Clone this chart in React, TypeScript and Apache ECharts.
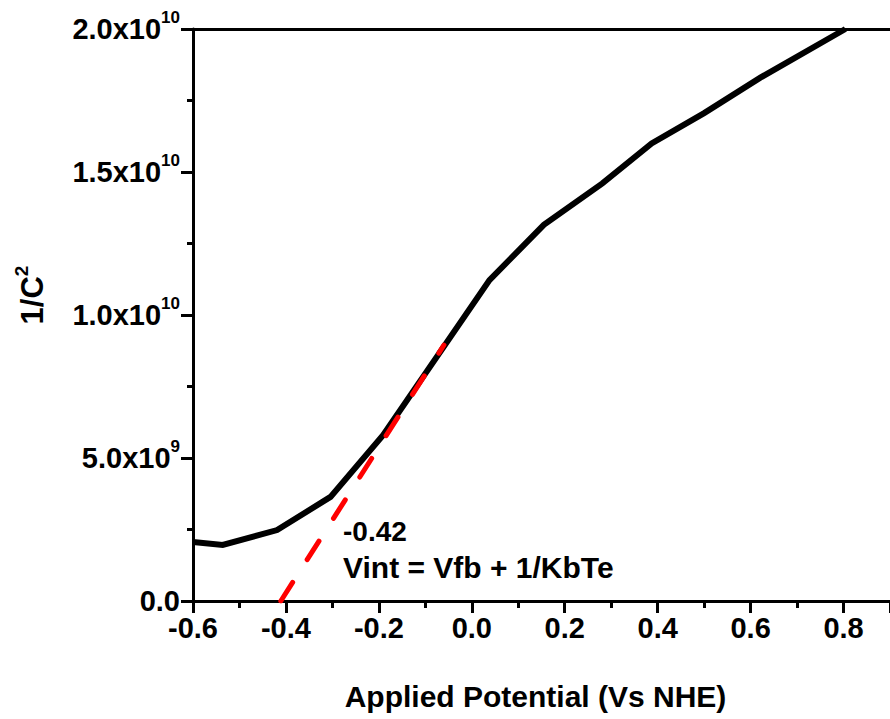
import React, { useEffect, useRef } from "react";
import * as echarts from "echarts";

const potential = [-0.6, -0.536, -0.419, -0.304, -0.191, 0.038, 0.155, 0.281, 0.387, 0.5, 0.621, 0.804];
const invC2 = [2.06e9, 1.96e9, 2.48e9, 3.64e9, 5.8e9, 1.122e10, 1.315e10, 1.46e10, 1.6e10, 1.706e10, 1.83e10, 2.0e10];

const fitX = [-0.411, -0.06];
const fitY = [0, 8.95e9];

const xTickLabels = ["-0.6", "-0.4", "-0.2", "0.0", "0.2", "0.4", "0.6", "0.8"];
const yTickMantissa = ["0.0", "5.0", "1.0", "1.5", "2.0"];
const yTickExponent = ["", "9", "10", "10", "10"];

const FONT = '"Liberation Sans", Arial, Helvetica, sans-serif';

export default function App() {
  const ref = useRef<HTMLDivElement>(null);
  useEffect(() => {
    if (!ref.current) return;
    const chart = echarts.init(ref.current, null, { renderer: "svg" });
    const axisLineStyle = { color: "#000", width: 3 };
    chart.setOption({
      animation: false,
      backgroundColor: "#fff",
      textStyle: { fontFamily: FONT },
      grid: { left: 193, top: 29, right: -8, bottom: 118, containLabel: false },
      xAxis: [
        {
          type: "value",
          min: -0.6,
          max: 0.9,
          interval: 0.2,
          name: "Applied Potential (Vs NHE)",
          nameLocation: "middle",
          nameGap: 80,
          nameTextStyle: { fontSize: 30, fontWeight: "bold", color: "#000", fontFamily: FONT, padding: [0, 12, 0, 0] },
          axisLine: { show: true, onZero: false, lineStyle: axisLineStyle },
          axisTick: { show: true, inside: false, length: 12, lineStyle: { color: "#000", width: 3 } },
          minorTick: { show: true, splitNumber: 2, length: 7, lineStyle: { color: "#000", width: 3 } },
          splitLine: { show: false },
          minorSplitLine: { show: false },
          axisLabel: {
            fontSize: 29,
            fontWeight: "bold",
            color: "#000",
            fontFamily: FONT,
            margin: 12,
            showMaxLabel: false,
            formatter: (_v: number, i: number) => xTickLabels[i] ?? "",
          },
        },
        {
          type: "value",
          position: "top",
          min: -0.6,
          max: 0.9,
          interval: 0.2,
          axisLine: { show: true, onZero: false, lineStyle: axisLineStyle },
          axisTick: { show: false },
          axisLabel: { show: false },
          splitLine: { show: false },
        },
      ],
      yAxis: {
        type: "value",
        min: 0,
        max: 2e10,
        interval: 5e9,
        axisLine: { show: true, onZero: false, lineStyle: axisLineStyle },
        axisTick: { show: true, inside: false, length: 12, lineStyle: { color: "#000", width: 3 } },
        minorTick: { show: true, splitNumber: 2, length: 6, lineStyle: { color: "#000", width: 3 } },
        splitLine: { show: false },
        minorSplitLine: { show: false },
        axisLabel: {
          margin: 13,
          color: "#000",
          formatter: (_v: number, i: number) => {
            const m = yTickMantissa[i] ?? "";
            const e = yTickExponent[i] ?? "";
            return e ? `{b|${m}x10}{s|${e}}` : `{b|${m}}`;
          },
          rich: {
            b: { fontSize: 29, fontWeight: "bold", color: "#000", fontFamily: FONT },
            s: { fontSize: 17, fontWeight: "bold", color: "#000", fontFamily: FONT, padding: [0, 0, 23, 0] },
          },
        },
      },
      graphic: [
        {
          type: "text",
          x: 32,
          y: 295,
          rotation: Math.PI / 2,
          style: {
            text: "{a|1/C}{s|2}",
            align: "center",
            verticalAlign: "middle",
            rich: {
              a: { fontSize: 31, fontWeight: "bold", fill: "#000", fontFamily: FONT },
              s: { fontSize: 19, fontWeight: "bold", fill: "#000", fontFamily: FONT, padding: [0, 0, 21, 0] },
            },
          },
        },
        {
          type: "text",
          x: 343,
          y: 531,
          style: {
            text: "-0.42",
            font: `bold 28px ${FONT}`,
            fill: "#000",
            align: "left",
            verticalAlign: "middle",
          },
        },
        {
          type: "text",
          x: 343,
          y: 567,
          style: {
            text: "Vint = Vfb + 1/KbTe",
            font: `bold 30px ${FONT}`,
            fill: "#000",
            align: "left",
            verticalAlign: "middle",
          },
        },
      ],
      series: [
        {
          type: "line",
          xAxisIndex: 0,
          data: potential.map((x, i) => [x, invC2[i]]),
          showSymbol: false,
          symbol: "none",
          lineStyle: { color: "#000", width: 6, join: "miter" },
          z: 2,
        },
        {
          type: "line",
          xAxisIndex: 0,
          data: fitX.map((x, i) => [x, fitY[i]]),
          showSymbol: false,
          symbol: "none",
          lineStyle: { color: "#ff0000", width: 5, type: [22, 27], cap: "round" },
          z: 3,
        },
      ],
    });
    return () => chart.dispose();
  }, []);
  return (
    <div
      ref={ref}
      style={{ position: "absolute", left: 0, top: 0, width: 890, height: 719, background: "#fff" }}
    />
  );
}
